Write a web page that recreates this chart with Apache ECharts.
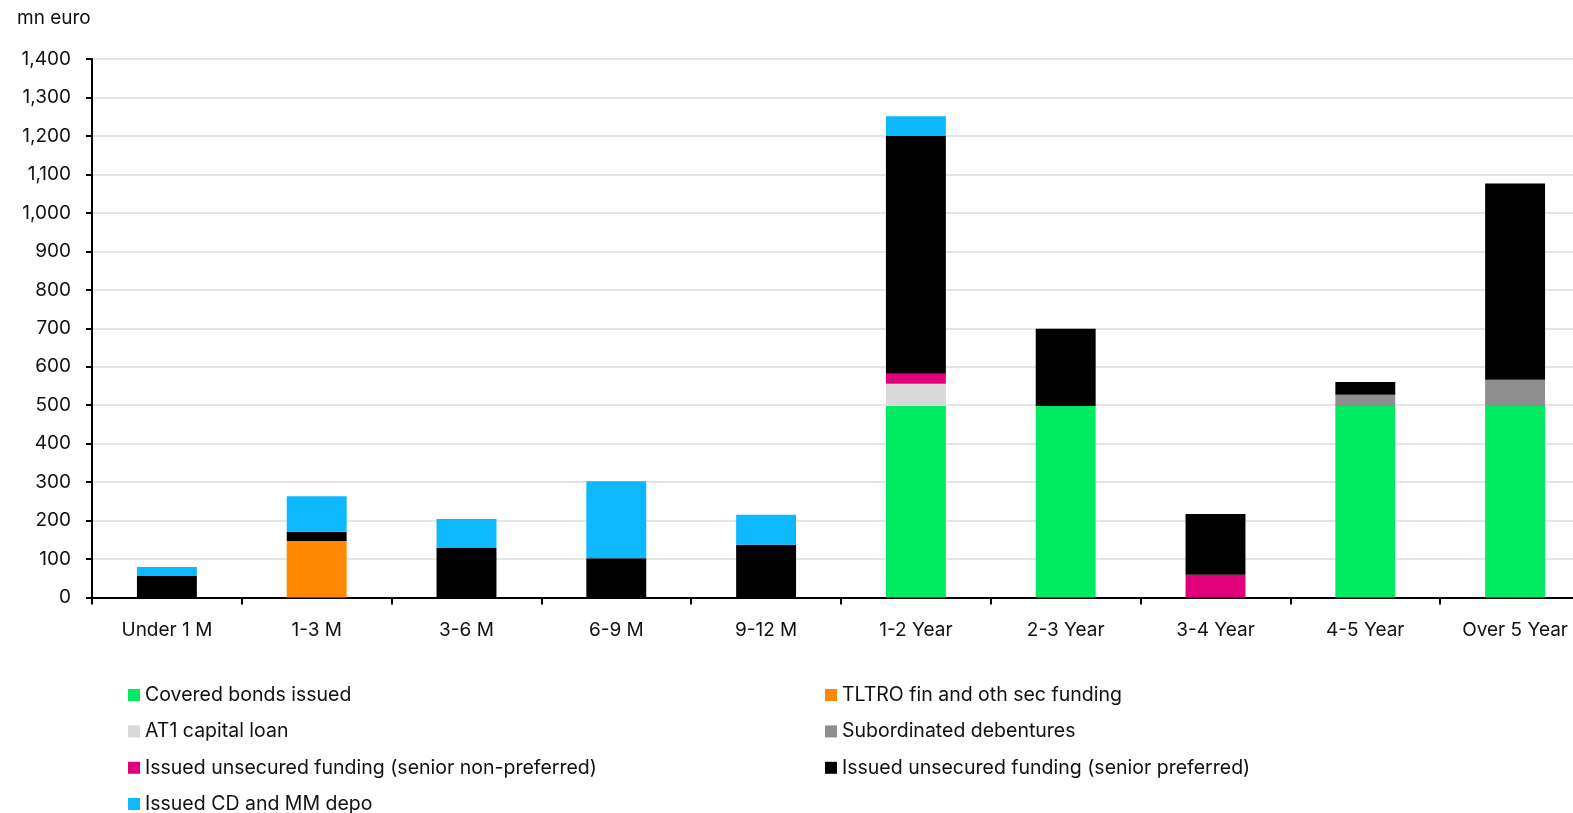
<!DOCTYPE html>
<html>
<head>
<meta charset="utf-8">
<script src="https://cdn.jsdelivr.net/npm/echarts@6/dist/echarts.min.js"></script>
<style>
  html, body { margin: 0; padding: 0; background: #fff; }
  #chart { width: 1573px; height: 813px; }
</style>
</head>
<body>
<div id="chart"></div>
<script>
// Maturity buckets
const categories = ['Under 1 M', '1-3 M', '3-6 M', '6-9 M', '9-12 M', '1-2 Year', '2-3 Year', '3-4 Year', '4-5 Year', 'Over 5 Year'];

// Funding by type, mn euro
const coveredBonds   = [0, 0, 0, 0, 0, 498, 498, 0, 498, 498];
const tltro          = [0, 147, 0, 0, 0, 0, 0, 0, 0, 0];
const at1Loan        = [0, 0, 0, 0, 0, 58, 0, 0, 0, 0];
const subordinated   = [0, 0, 0, 0, 0, 0, 0, 0, 29, 68];
const seniorNonPref  = [0, 0, 0, 0, 0, 26, 0, 59, 0, 0];
const seniorPref     = [56, 24, 129, 102, 137, 618, 201, 158, 33, 510];
const cdAndMmDepo    = [23, 92, 75, 200, 78, 51, 0, 0, 0, 0];

const yTicks = { min: 0, max: 1400, step: 100 };

const seriesDefs = [
  { name: 'Covered bonds issued', data: coveredBonds, color: '#00EB62' },
  { name: 'TLTRO fin and oth sec funding', data: tltro, color: '#FF8800' },
  { name: 'AT1 capital loan', data: at1Loan, color: '#D9D9D9' },
  { name: 'Subordinated debentures', data: subordinated, color: '#8E8E8E' },
  { name: 'Issued unsecured funding (senior non-preferred)', data: seniorNonPref, color: '#E2007A' },
  { name: 'Issued unsecured funding (senior preferred)', data: seniorPref, color: '#000000' },
  { name: 'Issued CD and MM depo', data: cdAndMmDepo, color: '#0DB8FF' }
];

const FONT = 'Inter, "Noto Sans", sans-serif';
const chart = echarts.init(document.getElementById('chart'), null, { renderer: 'canvas' });

const legendText = { fontFamily: FONT, fontSize: 19.5, color: '#111', lineHeight: 20 };
const legendBase = {
  orient: 'vertical', padding: 0,
  itemWidth: 12, itemHeight: 12, itemGap: 16.4, itemTextGap: 6,
  icon: 'rect', textStyle: legendText
};

chart.setOption({
  animation: false,
  backgroundColor: '#fff',
  graphic: [{
    type: 'text', left: 17, top: 9,
    style: { text: 'mn euro', font: '19px ' + FONT, fill: '#111' }
  }],
  // plot area runs slightly past the right edge of the canvas
  grid: {
    left: 92, width: 1498, top: 59, bottom: 215.5,
    containLabel: false, outerBoundsMode: 'none'
  },
  legend: [
    Object.assign({}, legendBase, {
      left: 128, top: 685,
      data: [seriesDefs[0].name, seriesDefs[2].name, seriesDefs[4].name]
    }),
    Object.assign({}, legendBase, {
      left: 128, top: 794,
      data: [seriesDefs[6].name]
    }),
    Object.assign({}, legendBase, {
      left: 825, top: 685,
      data: [seriesDefs[1].name, seriesDefs[3].name, seriesDefs[5].name]
    })
  ],
  xAxis: {
    type: 'category',
    data: categories,
    boundaryGap: true,
    axisLine: { lineStyle: { color: '#000', width: 2 } },
    axisTick: { show: true, length: 7, lineStyle: { color: '#000', width: 2 } },
    axisLabel: { fontFamily: FONT, fontSize: 19, color: '#111', margin: 23 },
    splitLine: { show: false }
  },
  yAxis: {
    type: 'value',
    min: yTicks.min, max: yTicks.max, interval: yTicks.step,
    axisLine: { show: true, lineStyle: { color: '#000', width: 2 } },
    axisTick: { show: true, length: 6, lineStyle: { color: '#000', width: 2 } },
    axisLabel: {
      fontFamily: FONT, fontSize: 19, color: '#111', margin: 21,
      formatter: v => v.toLocaleString('en-US')
    },
    splitLine: { show: true, lineStyle: { color: '#DCDCDC', width: 1.5 } }
  },
  series: seriesDefs.map(s => ({
    name: s.name,
    type: 'bar',
    stack: 'total',
    barWidth: '40%',
    data: s.data,
    itemStyle: { color: s.color },
    emphasis: { disabled: true }
  }))
});
</script>
</body>
</html>
